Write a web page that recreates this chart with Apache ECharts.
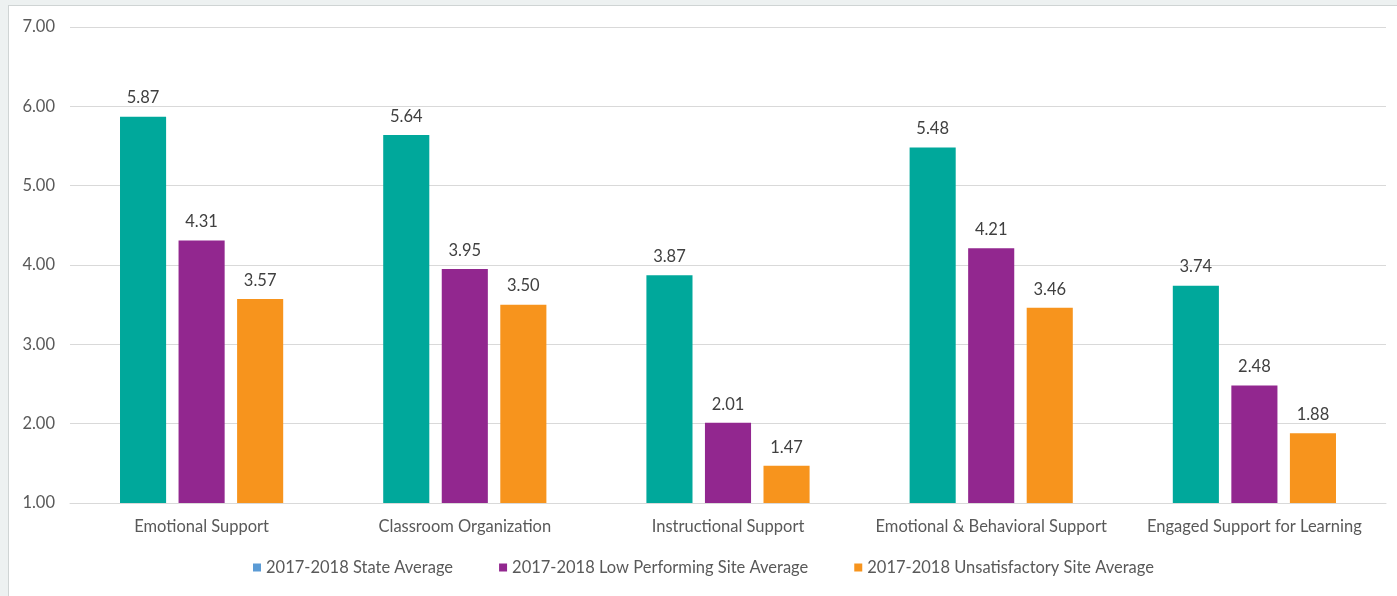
<!DOCTYPE html>
<html>
<head>
<meta charset="utf-8">
<script src="https://cdn.jsdelivr.net/npm/echarts@6/dist/echarts.min.js"></script>
<style>
  html, body { margin: 0; padding: 0; background: #edf1f1; }
  #chart { position: absolute; left: 8px; top: 5px; width: 1389px; height: 591px;
           background: #fff; border-left: 1px solid #cfd4d4; border-top: 1px solid #cfd4d4; }
</style>
</head>
<body>
<div id="chart"></div>
<script>
// categories + three series
const categories = ["Emotional Support", "Classroom Organization", "Instructional Support",
                    "Emotional & Behavioral Support", "Engaged Support for Learning"];
const stateAvg = [5.87, 5.64, 3.87, 5.48, 3.74];
const lowPerf = [4.31, 3.95, 2.01, 4.21, 2.48];
const unsat = [3.57, 3.50, 1.47, 3.46, 1.88];
const names = ["2017-2018 State Average", "2017-2018 Low Performing Site Average",
               "2017-2018 Unsatisfactory Site Average"];

const font = "Lato, 'Open Sans', sans-serif";
const fs = 16.5;
const chart = echarts.init(document.getElementById("chart"));

const bar = (name, data, color) => ({
  name, type: "bar", data,
  itemStyle: { color },
  barGap: "27%", barCategoryGap: "38%",
  label: { show: true, position: "top", distance: 10, color: "#404040",
           fontFamily: font, fontSize: fs, formatter: p => p.value.toFixed(2) },
});

chart.setOption({
  animation: false,
  grid: { left: 61, right: 12, top: 21, bottom: 94 },
  legend: {
    bottom: 16, itemWidth: 8, itemHeight: 8, itemGap: 46, icon: "rect",
    textStyle: { color: "#595959", fontFamily: font, fontSize: fs },
    data: [
      { name: names[0], itemStyle: { color: "#5b9bd5" } },
      { name: names[1] },
      { name: names[2] },
    ],
  },
  xAxis: {
    type: "category", data: categories,
    axisLine: { lineStyle: { color: "#d9d9d9" } },
    axisTick: { show: false },
    axisLabel: { color: "#595959", fontFamily: font, fontSize: fs, margin: 15, interval: 0 },
  },
  yAxis: {
    type: "value", min: 1, max: 7, interval: 1,
    axisLabel: { color: "#595959", fontFamily: font, fontSize: fs, margin: 15,
                 formatter: v => v.toFixed(2) },
    splitLine: { lineStyle: { color: "#d9d9d9" } },
  },
  series: [
    bar(names[0], stateAvg, "#00a89b"),
    bar(names[1], lowPerf, "#92278f"),
    bar(names[2], unsat, "#f7941d"),
  ],
});
</script>
</body>
</html>
